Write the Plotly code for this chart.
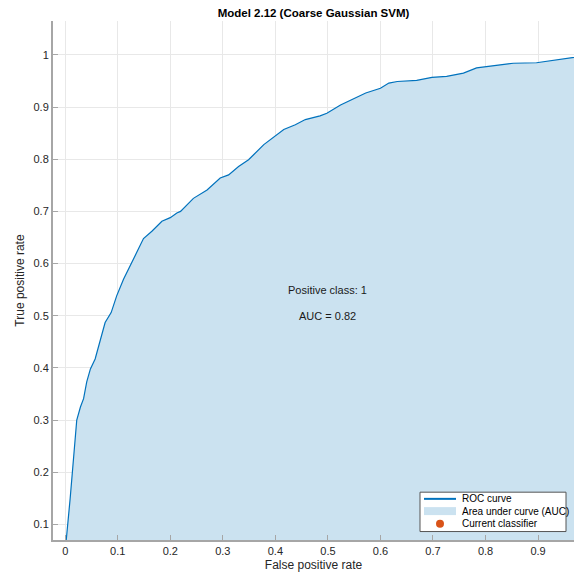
import plotly.graph_objects as go

# ROC curve samples (false positive rate, true positive rate)
fpr = [0.0, 0.002, 0.0095, 0.0127, 0.016, 0.022, 0.029, 0.035, 0.041, 0.048,
       0.057, 0.067, 0.076, 0.0875, 0.098, 0.111, 0.125, 0.136, 0.149, 0.165,
       0.184, 0.200, 0.2125, 0.2195, 0.244, 0.270, 0.295, 0.311, 0.330, 0.349,
       0.378, 0.403, 0.416, 0.438, 0.457, 0.485, 0.498, 0.524, 0.546, 0.572,
       0.600, 0.616, 0.632, 0.669, 0.698, 0.726, 0.758, 0.783, 0.828, 0.853,
       0.897, 0.923, 0.967, 1.0]
tpr = [0.0, 0.070, 0.150, 0.188, 0.240, 0.300, 0.325, 0.341, 0.373, 0.398,
       0.417, 0.455, 0.487, 0.506, 0.538, 0.570, 0.600, 0.621, 0.648, 0.662,
       0.681, 0.688, 0.697, 0.700, 0.725, 0.741, 0.764, 0.770, 0.786, 0.799,
       0.828, 0.847, 0.857, 0.866, 0.876, 0.883, 0.888, 0.904, 0.915, 0.927,
       0.936, 0.946, 0.949, 0.951, 0.957, 0.959, 0.965, 0.975, 0.981, 0.984,
       0.985, 0.989, 0.996, 1.0]

# operating point of the trained classifier
current_fpr = [0.99]
current_tpr = [0.999]

positive_class = 1
auc_value = 0.82

x_ticks = [0, 0.1, 0.2, 0.3, 0.4, 0.5, 0.6, 0.7, 0.8, 0.9]
y_ticks = [0.1, 0.2, 0.3, 0.4, 0.5, 0.6, 0.7, 0.8, 0.9, 1]

legend_labels = ["ROC curve", "Area under curve (AUC)", "Current classifier"]

FONT = "Helvetica, Arial, Liberation Sans, sans-serif"
BLUE = "#0072BD"
FILL = "#CBE2F0"
ORANGE = "#D95319"
AXIS_GRAY = "#A6A6A6"
TEXT = "#262626"

W, H = 581, 577
ML, MR, MT, MB = 53, 7, 21, 35


def px_x(p):
    """Pixel column -> paper x."""
    return (p - ML) / (W - ML - MR)


def px_y(p):
    """Pixel row -> paper y."""
    return (H - MB - p) / (H - MT - MB)


fig = go.Figure()

fig.add_trace(go.Scatter(
    x=fpr, y=tpr, mode="lines", fill="tozeroy", fillcolor=FILL,
    line=dict(width=0, color=FILL), name=legend_labels[1],
    hoverinfo="skip", showlegend=False))

fig.add_trace(go.Scatter(
    x=fpr, y=tpr, mode="lines", line=dict(color=BLUE, width=1.2),
    name=legend_labels[0], showlegend=False))

fig.add_trace(go.Scatter(
    x=current_fpr, y=current_tpr, mode="markers",
    marker=dict(color=ORANGE, size=8), name=legend_labels[2],
    showlegend=False))

fig.add_annotation(x=0.5, y=0.55, xref="x", yref="y",
                   text=f"Positive class: {positive_class}", showarrow=False,
                   font=dict(family=FONT, size=11, color="#1a1a1a"))
fig.add_annotation(x=0.5, y=0.5, xref="x", yref="y",
                   text=f"AUC = {auc_value:.2f}", showarrow=False,
                   font=dict(family=FONT, size=11, color="#1a1a1a"))

# compact legend box in the lower-right corner
fig.add_shape(type="rect", xref="paper", yref="paper",
              x0=px_x(420), x1=px_x(566), y0=px_y(533.5), y1=px_y(494),
              fillcolor="white", line=dict(color="#555555", width=1))
fig.add_shape(type="line", xref="paper", yref="paper",
              x0=px_x(424), x1=px_x(456), y0=px_y(500.7), y1=px_y(500.7),
              line=dict(color=BLUE, width=2))
fig.add_shape(type="rect", xref="paper", yref="paper",
              x0=px_x(424), x1=px_x(456), y0=px_y(517), y1=px_y(509),
              fillcolor=FILL, line=dict(width=0))
fig.add_shape(type="circle", xref="paper", yref="paper",
              x0=px_x(436), x1=px_x(444), y0=px_y(529.7), y1=px_y(521.7),
              fillcolor=ORANGE, line=dict(width=0))
for label, row in zip(legend_labels, [500.7, 513, 525.7]):
    fig.add_annotation(x=px_x(460), y=px_y(row), xref="paper", yref="paper",
                       text=label, showarrow=False, xanchor="left",
                       yanchor="middle",
                       font=dict(family=FONT, size=10, color="#000000"))

axis_common = dict(
    showgrid=True, gridcolor="#E8E8E8", gridwidth=1,
    showline=True, linecolor=AXIS_GRAY, linewidth=2, mirror=False,
    ticks="inside", ticklen=5, tickcolor=AXIS_GRAY, tickwidth=1,
    zeroline=False, tickfont=dict(family=FONT, size=11, color=TEXT),
)

fig.update_xaxes(range=[-0.0232, 0.9684], tickvals=x_ticks,
                 ticktext=[f"{v:g}" for v in x_ticks],
                 title=dict(text="False positive rate", standoff=4,
                            font=dict(family=FONT, size=12, color=TEXT)),
                 **axis_common)
fig.update_yaxes(range=[0.070, 1.065], tickvals=y_ticks,
                 ticktext=[f"{v:g}" for v in y_ticks],
                 title=dict(text="True positive rate", standoff=6,
                            font=dict(family=FONT, size=12, color=TEXT)),
                 **axis_common)

fig.update_layout(
    width=W, height=H,
    margin=dict(l=ML, r=MR, t=MT, b=MB),
    paper_bgcolor="white", plot_bgcolor="white",
    title=dict(text="<b>Model 2.12 (Coarse Gaussian SVM)</b>",
               x=(ML + W - MR) / 2 / W, xanchor="center", y=1 - 13 / H,
               yanchor="middle",
               font=dict(family=FONT, size=11.5, color="#000000")),
    showlegend=False,
    font=dict(family=FONT),
)

fig.write_html("out.html")
